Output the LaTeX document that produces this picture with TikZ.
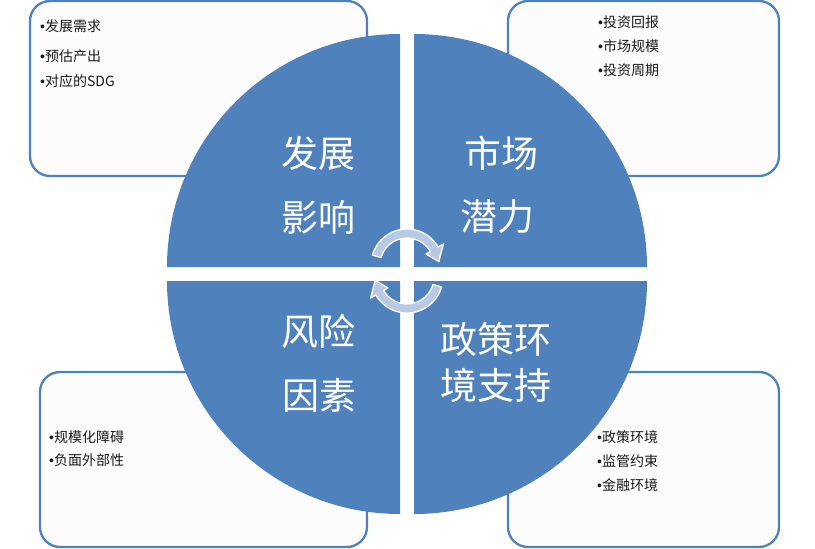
\documentclass[tikz,border=0pt]{standalone}
\usepackage{fontspec}
\setmainfont{Noto Sans CJK SC}
\newfontfamily\bulfont{Liberation Sans}
\newcommand{\bul}{{\bulfont •}}
\definecolor{qblue}{HTML}{4F81BD}
\definecolor{afill}{HTML}{B9C9E3}
\definecolor{boxfill}{HTML}{FCFCFD}
\definecolor{txt}{HTML}{1A1A1A}
\begin{document}
\begin{tikzpicture}[x=1pt,y=1pt,
  box/.style={draw=qblue, fill=boxfill, line width=2.3pt, rounded corners=20pt, inner sep=0pt, minimum height=175pt},
  item/.style={anchor=west, inner sep=0pt, text=txt, font=\fontsize{14}{16}\selectfont},
  quad/.style={fill=qblue},
  big/.style={inner sep=0pt, text=white, font=\fontsize{37}{40}\selectfont},
  cyc/.style={fill=afill, draw=white, line width=1.3pt, line join=round}]
\useasboundingbox (0,0) rectangle (815,-549);
% boxes
\node[box, minimum width=337pt] (boxTL) at (198.5,-88.5) {};
\node[box, minimum width=271pt] (boxTR) at (643.5,-88.5) {};
\node[box, minimum width=327pt] (boxBL) at (203.5,-459.5) {};
\node[box, minimum width=271pt] (boxBR) at (643.5,-459.5) {};
% box texts
\node[item] (tl1) at (40,-26) {\bul 发展需求};
\node[item] (tl2) at (40,-56) {\bul 预估产出};
\node[item] (tl3) at (40,-81) {\bul 对应的SDG};
\node[item] (tr1) at (598,-22) {\bul 投资回报};
\node[item] (tr2) at (598,-46) {\bul 市场规模};
\node[item] (tr3) at (598,-70) {\bul 投资周期};
\node[item] (bl1) at (49,-437) {\bul 规模化障碍};
\node[item] (bl2) at (49,-460) {\bul 负面外部性};
\node[item] (br1) at (597,-437) {\bul 政策环境};
\node[item] (br2) at (597,-461) {\bul 监管约束};
\node[item] (br3) at (597,-485) {\bul 金融环境};
% quadrants
\path[quad] (400,-267) -- ++(0,233) arc[start angle=90, end angle=180, radius=233pt] -- cycle;
\path[quad] (414,-267) -- ++(233,0) arc[start angle=0, end angle=90, radius=233pt] -- cycle;
\path[quad] (400,-281) -- ++(-233,0) arc[start angle=180, end angle=270, radius=233pt] -- cycle;
\path[quad] (414,-281) -- ++(0,-233) arc[start angle=270, end angle=360, radius=233pt] -- cycle;
% quadrant texts
\node[big] (q1a) at (318,-153) {发展};
\node[big] (q1b) at (318,-217) {影响};
\node[big] (q2a) at (501,-153) {市场};
\node[big] (q2b) at (497,-217) {潜力};
\node[big] (q3a) at (318,-331) {风险};
\node[big] (q3b) at (319,-395) {因素};
\node[big] (q4a) at (496,-339) {政策环};
\node[big] (q4b) at (496,-385) {境支持};
% cycle arrows
\begin{scope}[shift={(407,-265)}]
\path[cyc] (164:36) arc[start angle=164, end angle=30, radius=36pt]
  -- (30:42) -- (6:32) -- (30:22) -- (30:27)
  arc[start angle=30, end angle=164, radius=27pt] -- cycle;
\end{scope}
\begin{scope}[shift={(407,-277)}]
\path[cyc] (344:36) arc[start angle=344, end angle=210, radius=36pt]
  -- (210:42) -- (186:32) -- (210:22) -- (210:27)
  arc[start angle=210, end angle=344, radius=27pt] -- cycle;
\end{scope}
\end{tikzpicture}
\end{document}
